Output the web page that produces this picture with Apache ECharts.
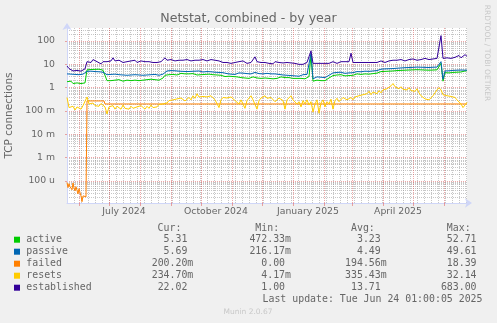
<!DOCTYPE html>
<html>
<head>
<meta charset="utf-8">
<script src="https://cdn.jsdelivr.net/npm/echarts@6/dist/echarts.min.js"></script>
<style>
html, body { margin: 0; padding: 0; background: #F0F0F0; }
#chart { width: 497px; height: 323px; }
</style>
</head>
<body>
<div id="chart"></div>
<script>
// ---- data -------------------------------------------------------------
const seriesNames  = ['active', 'passive', 'failed', 'resets', 'established'];
const seriesColors = ['#00CC00', '#0066B3', '#FF8000', '#FFCC00', '#330099'];

const startTime = Date.UTC(2024, 4, 20, 1, 0, 5);
const endTime   = Date.UTC(2025, 5, 24, 1, 0, 5);
const stepDays  = 2;   // one sample every two days for the sampled series

const active = [
  1.8, 1.6, 1.9, 1.5, 1.7, 1.6, 1.8, 1.5, 1.7, 1.6,
  5.8, 6.3, 6.0, 6.5, 6.1, 5.9, 6.2, 5.8, 5.6, 5.3,
  2.0, 2.2, 2.0, 2.3, 2.1, 2.0, 2.2, 2.1, 1.9, 2.2,
  2.1, 2.3, 2.0, 2.2, 2.1, 2.3, 2.0, 2.2, 2.1, 2.0,
  2.2, 2.0, 2.3, 2.1, 2.2, 2.0, 2.1, 2.3, 2.6, 3.4,
  3.9, 3.6, 4.0, 3.7, 3.9, 3.5, 3.8, 4.1, 3.7, 3.9,
  3.6, 3.9, 3.7, 4.0, 3.8, 3.5, 3.8, 3.6, 3.4, 3.7,
  3.5, 3.8, 3.4, 3.6, 3.3, 3.5, 3.2, 3.4, 3.1, 3.0,
  2.9, 3.1, 2.7, 3.0, 2.6, 2.9, 3.1, 2.7, 3.0, 2.6,
  2.8, 2.5, 2.9, 2.9, 3.3, 2.6, 2.8, 2.5, 2.8, 2.6,
  2.9, 2.5, 2.7, 2.4, 2.8, 2.5, 2.6, 2.9, 2.4, 2.7,
  2.5, 2.7, 2.3, 2.5, 2.2, 2.5, 2.3, 2.5, 2.6, 2.4,
  2.6, 3.0, 25, 1.9, 2.0, 2.1, 1.9, 2.0, 2.2, 2.0,
  2.3, 2.6, 3.0, 3.3, 3.1, 3.5, 3.3, 3.6, 3.4, 3.2,
  3.5, 3.3, 3.7, 3.4, 3.6, 3.9, 4.1, 3.7, 4.2, 3.9,
  4.1, 3.8, 4.3, 4.0, 4.4, 4.2, 4.6, 4.9, 4.5, 5.0,
  4.8, 5.1, 4.7, 5.2, 5.0, 5.4, 5.0, 5.5, 5.2, 5.6,
  5.4, 5.7, 5.3, 5.8, 5.5, 5.9, 5.6, 5.8, 5.5, 5.7,
  5.4, 5.6, 5.3, 5.7, 5.5, 5.8, 5.6, 11, 1.9, 4.4,
  4.6, 4.3, 4.7, 4.5, 4.8, 4.6, 4.9, 4.7, 5.0, 5.2,
  5.31
];

const passive = [
  3.9, 3.7, 3.8, 3.5, 3.7, 3.4, 3.6, 3.5, 3.8, 3.6,
  5.0, 5.3, 5.1, 5.4, 4.9, 5.2, 4.8, 5.0, 4.6, 4.2,
  3.6, 3.4, 3.7, 3.5, 3.8, 3.4, 3.6, 3.3, 3.5, 3.7,
  3.4, 3.6, 3.5, 3.3, 3.6, 3.4, 3.5, 3.7, 3.4, 3.6,
  3.5, 3.3, 3.6, 3.4, 3.7, 3.5, 3.4, 3.6, 3.8, 4.6,
  5.2, 4.9, 5.4, 5.0, 5.3, 4.8, 5.1, 5.5, 5.0, 5.2,
  4.9, 5.3, 5.0, 5.4, 5.1, 4.8, 5.2, 5.0, 4.7, 5.1,
  4.9, 5.2, 4.8, 5.0, 4.6, 4.9, 4.5, 4.7, 4.4, 4.2,
  4.0, 4.3, 3.8, 4.2, 3.7, 4.0, 4.3, 3.8, 4.2, 3.7,
  4.0, 3.6, 3.9, 4.2, 4.5, 3.7, 4.0, 3.6, 3.9, 3.7,
  4.1, 3.6, 3.9, 3.5, 3.9, 3.4, 3.7, 4.0, 3.5, 3.8,
  3.4, 3.7, 3.3, 3.6, 3.2, 3.5, 3.1, 3.4, 3.6, 3.4,
  3.7, 4.2, 30, 2.4, 2.7, 2.9, 2.6, 2.8, 3.0, 2.7,
  3.1, 3.4, 3.9, 4.3, 4.1, 4.5, 4.2, 4.6, 4.4, 4.1,
  4.5, 4.3, 4.8, 4.4, 4.6, 4.9, 5.2, 4.8, 5.4, 5.1,
  5.3, 5.0, 5.5, 5.2, 5.7, 5.4, 5.9, 6.2, 5.8, 6.4,
  6.1, 6.5, 6.0, 6.6, 6.3, 6.8, 6.4, 7.0, 6.6, 7.2,
  6.9, 7.3, 6.8, 7.4, 7.0, 7.6, 7.2, 7.5, 7.1, 7.4,
  7.0, 7.3, 6.9, 7.5, 7.2, 7.6, 7.3, 13, 2.3, 5.2,
  5.6, 5.3, 5.7, 5.5, 5.8, 5.6, 5.9, 5.7, 5.8, 5.6,
  5.69
];

const resets = [
  0.38, 0.14, 0.12, 0.16, 0.11, 0.15, 0.13, 0.12, 0.17, 0.14,
  0.40, 0.20, 0.18, 0.22, 0.17, 0.20, 0.16, 0.21, 0.18, 0.15,
  0.075, 0.15, 0.13, 0.17, 0.12, 0.16, 0.14, 0.12, 0.18, 0.13,
  0.15, 0.12, 0.16, 0.13, 0.11, 0.15, 0.13, 0.17, 0.14, 0.12,
  0.16, 0.13, 0.18, 0.14, 0.17, 0.15, 0.19, 0.16, 0.20, 0.24,
  0.22, 0.28, 0.25, 0.30, 0.26, 0.33, 0.28, 0.36, 0.30, 0.27,
  0.32, 0.38, 0.30, 0.45, 0.35, 0.55, 0.40, 0.33, 0.42, 0.36,
  0.40, 0.34, 0.45, 0.38, 0.30, 0.36, 0.14, 0.30, 0.38, 0.33,
  0.36, 0.30, 0.40, 0.35, 0.28, 0.33, 0.20, 0.30, 0.26, 0.13,
  0.28, 0.33, 0.45, 0.30, 0.34, 0.12, 0.28, 0.36, 0.30, 0.45,
  0.35, 0.30, 0.38, 0.32, 0.25, 0.30, 0.36, 0.30, 0.28, 0.12,
  0.30, 0.35, 0.45, 0.30, 0.28, 0.20, 0.25, 0.15, 0.28, 0.20,
  0.30, 0.18, 0.25, 0.09, 0.20, 0.30, 0.08, 0.22, 0.30, 0.15,
  0.25, 0.20, 0.32, 0.12, 0.28, 0.35, 0.25, 0.30, 0.38, 0.33,
  0.30, 0.25, 0.38, 0.30, 0.40, 0.35, 0.45, 0.40, 0.50, 0.45,
  0.55, 0.70, 0.50, 0.65, 0.60, 0.55, 0.75, 0.60, 0.80, 0.70,
  0.90, 1.00, 1.20, 1.50, 1.10, 1.20, 0.90, 1.10, 0.85, 1.00,
  0.80, 1.00, 0.75, 0.90, 0.70, 0.90, 0.60, 0.45, 0.40, 0.33,
  0.28, 0.30, 0.35, 0.45, 0.60, 0.80, 1.00, 0.80, 0.50, 0.45,
  0.45, 0.40, 0.42, 0.35, 0.38, 0.30, 0.28, 0.20, 0.14, 0.12,
  0.2347
];

const established = [
  8.5, 6.6, 5.8, 5.2, 6.1, 5.5, 6.3, 5.1, 5.8, 6.4,
  13, 15, 12, 16, 14, 13, 12, 10.5, 13, 14,
  13, 15, 14, 19, 14, 13, 15, 13, 12, 14,
  13, 12, 14, 13, 15, 12, 13, 14, 12, 13,
  12, 13, 14, 12, 13, 12, 14, 13, 12, 19,
  15, 14, 16, 15, 14, 16, 15, 17, 15, 14,
  16, 15, 14, 16, 15, 17, 15, 14, 16, 15,
  14, 15, 16, 14, 15, 13, 14, 13, 12, 13,
  12, 14, 11, 13, 12, 10.5, 13, 11, 14, 12,
  11, 13, 12, 11, 21, 13, 11, 12, 10.5, 12,
  13, 11, 12, 10.5, 13, 11, 12, 10.5, 11.5, 10,
  12, 10.5, 11.5, 10, 11, 12, 10, 11.5, 10, 11,
  12, 14, 38, 11, 10, 11, 12, 11, 12, 11,
  12, 11, 12, 13, 12, 11, 12, 13, 12, 13,
  14, 13, 30, 12, 11, 12, 13, 12, 11, 12,
  13, 12, 11, 12, 13, 12, 13, 14, 13, 12,
  13, 14, 13, 15, 14, 15, 14, 16, 15, 14,
  15, 16, 15, 17, 16, 15, 17, 16, 17, 18,
  17, 16, 18, 17, 19, 18, 20, 170, 18, 17,
  19, 20, 18, 21, 20, 22, 24, 19, 21, 26,
  22.02
];

// failed is flat most of the year, so it is kept as (day, value) pairs
const failedDays = [
  0, 1, 2, 3, 4, 5, 6, 7, 8, 9, 10, 11, 12, 13, 14, 15, 16, 17, 18, 19,
  20, 37, 38, 373, 374, 375, 400
];
const failedValues = [
  8.7e-5, 5.2e-5, 7.7e-5, 5.7e-5, 6.5e-5, 4.2e-5, 8.3e-5, 5.0e-5, 3.8e-5, 5.7e-5,
  6.0e-5, 2.8e-5, 4.7e-5, 3.2e-5, 2.3e-5, 1.3e-5, 2.3e-5, 2.1e-5, 2.1e-5, 2.1e-5,
  0.27, 0.27, 0.2, 0.2, 0.24, 0.2, 0.2002
];

// x axis: month grid lines, quarterly labels (centred mid-month)
const monthStarts = [
  '2024-06-01', '2024-07-01', '2024-08-01', '2024-09-01', '2024-10-01', '2024-11-01',
  '2024-12-01', '2025-01-01', '2025-02-01', '2025-03-01', '2025-04-01', '2025-05-01',
  '2025-06-01'
];
const labelDates = ['2024-07-16', '2024-10-16', '2025-01-16', '2025-04-16'];
const tickLabels = ['July 2024', 'October 2024', 'January 2025', 'April 2025'];

// y axis: decades with SI labels
const yMajor       = [1e-4, 1e-3, 1e-2, 1e-1, 1, 10, 100];
const yMajorLabels = ['100 u', '1 m', '10 m', '100 m', '1', '10', '100'];
const yMin = 1.14e-5;
const yMax = 361;

// legend table
const legendCur = ['5.31', '5.69', '200.20m', '234.70m', '22.02'];
const legendMin = ['472.33m', '216.17m', '0.00', '4.17m', '1.00'];
const legendAvg = ['3.23', '4.49', '194.56m', '335.43m', '13.71'];
const legendMax = ['52.71', '49.61', '18.39', '32.14', '683.00'];
const lastUpdate = 'Last update: Tue Jun 24 01:00:05 2025';

// ---- helpers ----------------------------------------------------------
const DAY = 86400000;
const utc = s => { const p = s.split('-').map(Number); return Date.UTC(p[0], p[1] - 1, p[2]); };
const sampled = arr => arr.map((v, i) => [startTime + i * stepDays * DAY, v]);
const failedData = failedDays.map((d, i) => [startTime + d * DAY, failedValues[i]]);

// weekly minor grid on Mondays
const weekLines = [];
for (let t = Date.UTC(2024, 4, 27); t <= endTime; t += 7 * DAY) weekLines.push(t);

// minor log grid 2..9 per decade
const yMinor = [];
for (let e = -5; e <= 2; e++) for (let m = 2; m <= 9; m++) {
  const v = m * Math.pow(10, e);
  if (v > yMin && v < yMax) yMinor.push(v);
}

const labelTimes = labelDates.map(utc);
const MAJOR = 'rgba(222,79,79,0.5)';
const MINOR = 'rgba(143,143,143,0.5)';
const AXIS  = '#CFD6F8';
const FONT  = '#666666';
const SANS  = '"DejaVu Sans", sans-serif';
const MONO  = '"DejaVu Sans Mono", monospace';

const lineSeries = (name, idx, data) => ({
  name, type: 'line', data, xAxisIndex: 1, yAxisIndex: 1,
  showSymbol: false, symbol: 'none', animation: false, silent: true,
  lineStyle: { width: 1, color: seriesColors[idx] }, z: 3 + idx
});

// ---- legend table graphics -------------------------------------------
const g = [];
const txt = (x, y, text, opts) => g.push({
  type: 'text', x, y, silent: true,
  style: Object.assign({ text, fill: FONT, font: '9.9px ' + MONO, align: 'left', verticalAlign: 'middle' }, opts || {})
});
const rowY = [239.7, 251.7, 263.7, 275.7, 287.7];
const colEnd = [193.3, 291, 386.7, 482.5];
const withUnit = s => /[mu]$/.test(s) ? s : s + ' ';
['Cur:', 'Min:', 'Avg:', 'Max:'].forEach((h, c) => txt(colEnd[c] - 11.9, 228.3, h, { align: 'right' }));
seriesNames.forEach((n, i) => {
  g.push({ type: 'rect', silent: true, shape: { x: 14, y: rowY[i] - 3, width: 6, height: 6 }, style: { fill: seriesColors[i] } });
  txt(26.3, rowY[i], n);
  [legendCur, legendMin, legendAvg, legendMax].forEach((col, c) => txt(colEnd[c], rowY[i], withUnit(col[i]), { align: 'right' }));
});
txt(482.5, 299.3, lastUpdate, { align: 'right' });
txt(248, 312, 'Munin 2.0.67', { align: 'center', font: '7.5px ' + SANS, fill: '#C8C8C8' });
g.push({
  type: 'text', x: 487, y: 53, rotation: -Math.PI / 2, silent: true,
  style: { text: 'RRDTOOL / TOBI OETIKER', fill: '#C8C8C8', font: '7.5px ' + SANS, align: 'center', verticalAlign: 'middle' }
});

// ---- chart ------------------------------------------------------------
const chart = echarts.init(document.getElementById('chart'), null, { renderer: 'canvas' });
chart.setOption({
  animation: false,
  backgroundColor: '#F0F0F0',
  title: {
    text: 'Netstat, combined - by year', left: 'center', top: 12, padding: 0,
    textStyle: { color: FONT, fontFamily: SANS, fontSize: 12.6, fontWeight: 'normal' }
  },
  grid: {
    left: 67, right: 30, top: 28, bottom: 120, containLabel: false, outerBoundsMode: 'none',
    show: true, backgroundColor: '#FFFFFF', borderWidth: 0
  },
  xAxis: [
    { // weekly minor grid
      type: 'value', min: startTime, max: endTime, position: 'bottom',
      axisLine: { show: false }, axisLabel: { show: false },
      axisTick: { show: false, customValues: weekLines },
      splitLine: { show: true, lineStyle: { type: 'dotted', color: MINOR, width: 1 } }
    },
    { // month grid and labels
      type: 'value', min: startTime, max: endTime, position: 'bottom',
      axisLine: { show: true, lineStyle: { color: AXIS, width: 1 }, symbol: ['none', 'arrow'], symbolSize: [7, 7], symbolOffset: [0, 5] },
      axisTick: { show: true, length: 3, customValues: monthStarts.map(utc), lineStyle: { color: MAJOR } },
      axisLabel: {
        customValues: labelTimes, color: FONT, fontFamily: SANS, fontSize: 9.3, margin: 4,
        formatter: v => { const k = labelTimes.indexOf(v); return k >= 0 ? tickLabels[k] : ''; }
      },
      splitLine: { show: true, lineStyle: { type: 'dotted', color: MAJOR, width: 1 } }
    }
  ],
  yAxis: [
    { // minor log grid
      type: 'log', logBase: 10, min: yMin, max: yMax,
      axisLine: { show: false }, axisLabel: { show: false },
      axisTick: { show: false, customValues: yMinor },
      splitLine: { show: true, lineStyle: { type: 'dotted', color: MINOR, width: 1 } }
    },
    { // decades
      type: 'log', logBase: 10, min: yMin, max: yMax, position: 'left',
      name: 'TCP connections', nameLocation: 'middle', nameGap: 50,
      nameTextStyle: { color: FONT, fontFamily: SANS, fontSize: 10.5 },
      axisLine: { show: true, lineStyle: { color: AXIS, width: 1 }, symbol: ['none', 'arrow'], symbolSize: [7, 7], symbolOffset: [0, 5] },
      axisTick: { show: true, length: 2, customValues: yMajor, lineStyle: { color: MAJOR } },
      axisLabel: {
        customValues: yMajor, color: FONT, fontFamily: SANS, fontSize: 9.3, margin: 12,
        formatter: v => { const k = yMajor.findIndex(m => Math.abs(m - v) / m < 1e-6); return k >= 0 ? yMajorLabels[k] : ''; }
      },
      splitLine: { show: true, lineStyle: { type: 'dotted', color: MAJOR, width: 1 } }
    }
  ],
  series: [
    lineSeries('active', 0, sampled(active)),
    lineSeries('passive', 1, sampled(passive)),
    lineSeries('failed', 2, failedData),
    lineSeries('resets', 3, sampled(resets)),
    lineSeries('established', 4, sampled(established))
  ],
  graphic: g
});
</script>
</body>
</html>
